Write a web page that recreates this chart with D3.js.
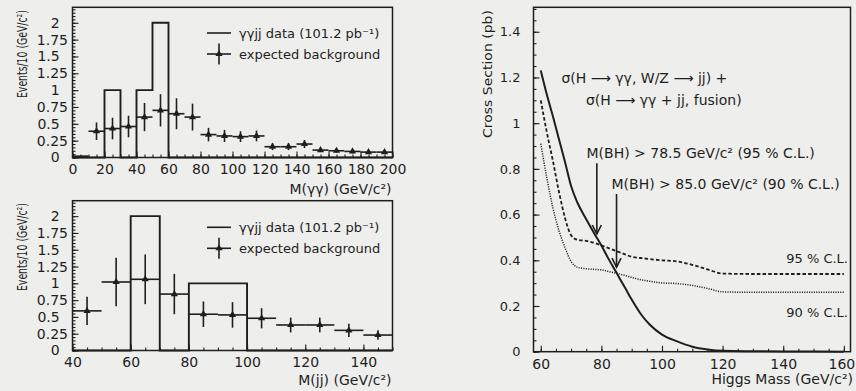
<!DOCTYPE html>
<html>
<head>
<meta charset="utf-8">
<script src="https://cdn.jsdelivr.net/npm/d3@7"></script>
<style>
  html, body { margin: 0; padding: 0; background: #eeeeec; }
  svg { display: block; }
  text { font-family: "DejaVu Sans", sans-serif; fill: #1e1e1e; }
</style>
</head>
<body>
<svg id="fig" width="856" height="391"></svg>
<script>
// ---------- M(γγ) spectrum: data histogram and expected background (10 GeV bins)
const ggCenters = [5, 15, 25, 35, 45, 55, 65, 75, 85, 95, 105, 115, 125, 135, 145, 155, 165, 175, 185, 195];
const ggData    = [0, 0, 1, 0, 1, 2, 0, 0, 0, 0, 0, 0, 0, 0, 0, 0, 0, 0, 0, 0];
const ggBkg     = [0.02, 0.39, 0.43, 0.46, 0.60, 0.70, 0.65, 0.60, 0.34, 0.32, 0.31, 0.32, 0.16, 0.16, 0.20, 0.11, 0.10, 0.09, 0.08, 0.08];
const ggBkgErr  = [0, 0.13, 0.16, 0.16, 0.21, 0.24, 0.23, 0.20, 0.10, 0.09, 0.08, 0.08, 0.05, 0.05, 0.06, 0.03, 0.03, 0.03, 0.025, 0.025];
const ggXTicks  = ["0", "20", "40", "60", "80", "100", "120", "140", "160", "180", "200"];

// ---------- M(jj) spectrum
const jjCenters = [45, 55, 65, 75, 85, 95, 105, 115, 125, 135, 145];
const jjData    = [0, 0, 2, 0, 1, 1, 0, 0, 0, 0, 0];
const jjBkg     = [0.59, 1.02, 1.06, 0.84, 0.54, 0.53, 0.48, 0.38, 0.38, 0.30, 0.23];
const jjBkgErr  = [0.21, 0.36, 0.37, 0.30, 0.19, 0.19, 0.15, 0.11, 0.11, 0.10, 0.07];
const jjXTicks  = ["40", "60", "80", "100", "120", "140"];

const eventYTicks = ["0", "0.25", "0.5", "0.75", "1", "1.25", "1.5", "1.75", "2"];
const binWidth = 10;

// ---------- cross section vs Higgs mass
const higgsMass = [60, 62, 64, 66, 68, 70, 72, 75, 78, 80, 82, 85, 88, 90, 93, 96, 100, 105, 110, 115, 120, 130, 140, 150, 160];
const xsecTheory = [1.23, 1.125, 1.03, 0.93, 0.83, 0.725, 0.655, 0.58, 0.51, 0.465, 0.415, 0.345, 0.275, 0.228, 0.165, 0.118, 0.075, 0.045, 0.022, 0.010, 0.004, 0.002, 0.001, 0.0005, 0.0];
const limit95    = [1.10, 0.96, 0.835, 0.70, 0.585, 0.51, 0.49, 0.485, 0.475, 0.465, 0.455, 0.44, 0.425, 0.415, 0.41, 0.405, 0.40, 0.395, 0.38, 0.36, 0.342, 0.34, 0.34, 0.34, 0.34];
const limit90    = [0.91, 0.76, 0.63, 0.53, 0.455, 0.395, 0.37, 0.363, 0.36, 0.358, 0.352, 0.343, 0.333, 0.325, 0.315, 0.308, 0.301, 0.298, 0.29, 0.277, 0.262, 0.26, 0.26, 0.26, 0.26];
const xsecXTicks = ["60", "80", "100", "120", "140", "160"];
const xsecYTicks = ["0", "0.2", "0.4", "0.6", "0.8", "1", "1.2", "1.4"];

// mass limits marked with arrows: [mass, arrow top, arrow tip] in (GeV, pb)
const limitMass  = [78.5, 85.0];
const arrowTop   = [0.825, 0.69];
const arrowTip   = [0.515, 0.37];

const ink = "#1e1e1e";
const svg = d3.select("#fig");

function range(a, b, step) {
  const out = [];
  for (let v = a; v <= b + 1e-9; v += step) out.push(+v.toFixed(4));
  return out;
}

// rotated axis title squeezed to a given length along its baseline
function verticalTitle(g, xBase, yBottom, len, size, str) {
  const t = g.append("text").style("font-size", size + "px").text(str);
  const natural = t.node().getComputedTextLength();
  t.attr("transform", `translate(${xBase},${yBottom}) rotate(-90) scale(${len / natural},1)`);
  return t;
}

// Draw one event-count panel (histogram + background with errors)
function eventPanel(cfg) {
  const g = svg.append("g");
  const x = d3.scaleLinear().domain(cfg.xDomain).range([cfg.left, cfg.right]);
  const y = d3.scaleLinear().domain([0, 2.23]).range([cfg.bottom, cfg.top]);

  // minor ticks
  g.append("g").attr("transform", `translate(0,${cfg.bottom})`)
    .call(d3.axisBottom(x).tickValues(range(cfg.xDomain[0], cfg.xDomain[1], 5)).tickSize(-3).tickFormat(""))
    .call(a => a.select(".domain").remove());
  g.append("g").attr("transform", `translate(${cfg.left},0)`)
    .call(d3.axisLeft(y).tickValues(range(0, 2.2, 0.05)).tickSize(-3).tickFormat(""))
    .call(a => a.select(".domain").remove());

  // major ticks and labels
  const xa = g.append("g").attr("transform", `translate(0,${cfg.bottom})`)
    .call(d3.axisBottom(x).tickValues(cfg.xTicks.map(Number)).tickSize(-6).tickPadding(7)
      .tickFormat((d, i) => cfg.xTicks[i]));
  xa.select(".domain").remove();
  xa.selectAll("text").style("font-size", "14px").attr("fill", ink);

  const ya = g.append("g").attr("transform", `translate(${cfg.left},0)`)
    .call(d3.axisLeft(y).tickValues(eventYTicks.map(Number)).tickSize(-6).tickPadding(4.5)
      .tickFormat((d, i) => eventYTicks[i]));
  ya.select(".domain").remove();
  ya.selectAll("text").style("font-size", "14px").attr("fill", ink)
    .attr("dx", (d, i) => (eventYTicks[i].length === 4 ? 0 : -8.3));
  g.selectAll(".tick line").attr("stroke", ink).attr("stroke-width", 1.1);

  // data histogram outline
  const pts = [[cfg.centers[0] - binWidth / 2, 0]];
  cfg.data.forEach((v, i) => {
    pts.push([cfg.centers[i] - binWidth / 2, v]);
    pts.push([cfg.centers[i] + binWidth / 2, v]);
  });
  pts.push([cfg.centers[cfg.centers.length - 1] + binWidth / 2, 0]);
  g.append("path")
    .attr("d", d3.line().x(d => x(d[0])).y(d => y(d[1]))(pts))
    .attr("fill", "none").attr("stroke", ink).attr("stroke-width", 1.9);

  // expected background: horizontal bin bars, error bars and markers
  const bk = g.append("g");
  cfg.centers.forEach((c, i) => {
    const v = cfg.bkg[i], e = cfg.err[i];
    bk.append("line").attr("x1", x(c - binWidth / 2)).attr("x2", x(c + binWidth / 2))
      .attr("y1", y(v)).attr("y2", y(v)).attr("stroke", ink).attr("stroke-width", 1.6);
    if (e > 0) {
      bk.append("line").attr("x1", x(c)).attr("x2", x(c))
        .attr("y1", y(v - e)).attr("y2", y(v + e)).attr("stroke", ink).attr("stroke-width", 1.6);
      bk.append("path").attr("d", d3.symbol(d3.symbolTriangle, 22)())
        .attr("transform", `translate(${x(c)},${y(v)})`).attr("fill", ink);
    }
  });

  // frame
  g.append("rect").attr("x", cfg.left).attr("y", cfg.top)
    .attr("width", cfg.right - cfg.left).attr("height", cfg.bottom - cfg.top)
    .attr("fill", "none").attr("stroke", ink).attr("stroke-width", 1.5);

  // legend
  const lg = g.append("g");
  lg.append("line").attr("x1", 207).attr("x2", 231).attr("y1", cfg.legendY).attr("y2", cfg.legendY)
    .attr("stroke", ink).attr("stroke-width", 1.6);
  lg.append("text").attr("x", 239).attr("y", cfg.legendY + 4.7).style("font-size", "13px")
    .text("γγjj data (101.2 pb⁻¹)");
  const ly2 = cfg.legendY + 21;
  lg.append("line").attr("x1", 207).attr("x2", 231).attr("y1", ly2).attr("y2", ly2)
    .attr("stroke", ink).attr("stroke-width", 1.6);
  lg.append("line").attr("x1", 219).attr("x2", 219).attr("y1", ly2 - 10.5).attr("y2", ly2 + 10.5)
    .attr("stroke", ink).attr("stroke-width", 1.6);
  lg.append("path").attr("d", d3.symbol(d3.symbolTriangle, 22)())
    .attr("transform", `translate(219,${ly2})`).attr("fill", ink);
  lg.append("text").attr("x", 239).attr("y", ly2 + 4.7).style("font-size", "13px")
    .text("expected background");

  // axis titles
  g.append("text").attr("x", cfg.right - 1).attr("y", cfg.xTitleY).attr("text-anchor", "end")
    .style("font-size", "14px").text(cfg.xTitle);
  verticalTitle(g, 26.5, cfg.yTitleBottom, 88, 14, "Events/10 (GeV/c²)");
}

eventPanel({
  left: 72.5, right: 392.5, top: 7.3, bottom: 157.5,
  xDomain: [0, 200], xTicks: ggXTicks,
  centers: ggCenters, data: ggData, bkg: ggBkg, err: ggBkgErr,
  legendY: 33, xTitle: "M(γγ) (GeV/c²)", xTitleY: 194, yTitleBottom: 98
});

eventPanel({
  left: 72.5, right: 392.5, top: 200.7, bottom: 350.5,
  xDomain: [40, 150], xTicks: jjXTicks,
  centers: jjCenters, data: jjData, bkg: jjBkg, err: jjBkgErr,
  legendY: 227.3, xTitle: "M(jj) (GeV/c²)", xTitleY: 385, yTitleBottom: 291
});

// ---------- cross-section panel
(function () {
  const L = 533.5, R = 850.5, T = 7.3, B = 351.7;
  const g = svg.append("g");
  const x = d3.scaleLinear().domain([57.6, 162.2]).range([L, R]);
  const y = d3.scaleLinear().domain([0, 1.507]).range([B, T]);

  g.append("g").attr("transform", `translate(0,${B})`)
    .call(d3.axisBottom(x).tickValues(range(60, 160, 5)).tickSize(-3).tickFormat(""))
    .call(a => a.select(".domain").remove());
  g.append("g").attr("transform", `translate(${L},0)`)
    .call(d3.axisLeft(y).tickValues(range(0, 1.5, 0.05)).tickSize(-3).tickFormat(""))
    .call(a => a.select(".domain").remove());

  const xa = g.append("g").attr("transform", `translate(0,${B})`)
    .call(d3.axisBottom(x).tickValues(xsecXTicks.map(Number)).tickSize(-6).tickPadding(7)
      .tickFormat((d, i) => xsecXTicks[i]));
  xa.select(".domain").remove();
  xa.selectAll("text").style("font-size", "14px").attr("fill", ink)
    .attr("dx", (d, i) => (i === xsecXTicks.length - 1 ? -2.5 : 0));

  const ya = g.append("g").attr("transform", `translate(${L},0)`)
    .call(d3.axisLeft(y).tickValues(xsecYTicks.map(Number)).tickSize(-6).tickPadding(13)
      .tickFormat((d, i) => xsecYTicks[i]));
  ya.select(".domain").remove();
  ya.selectAll("text").style("font-size", "13px").attr("fill", ink);
  g.selectAll(".tick line").attr("stroke", ink).attr("stroke-width", 1.1);

  const line = vals => d3.line().curve(d3.curveMonotoneX)
    .x((d, i) => x(higgsMass[i])).y(d => y(d))(vals);

  g.append("path").attr("d", line(xsecTheory)).attr("fill", "none")
    .attr("stroke", ink).attr("stroke-width", 2);
  g.append("path").attr("d", line(limit95)).attr("fill", "none")
    .attr("stroke", ink).attr("stroke-width", 1.8).attr("stroke-dasharray", "3.5,2.2");
  g.append("path").attr("d", line(limit90)).attr("fill", "none")
    .attr("stroke", ink).attr("stroke-width", 1.5).attr("stroke-dasharray", "1.1,1.3");

  // mass-limit arrows
  limitMass.forEach((m, i) => {
    const xm = x(m), y0 = y(arrowTop[i]), y1 = y(arrowTip[i]);
    g.append("line").attr("x1", xm).attr("x2", xm).attr("y1", y0).attr("y2", y1)
      .attr("stroke", ink).attr("stroke-width", 1.6);
    g.append("path").attr("d", `M${xm - 4.5},${y1 - 9}L${xm},${y1}L${xm + 4.5},${y1 - 9}`)
      .attr("fill", "none").attr("stroke", ink).attr("stroke-width", 1.6);
  });

  g.append("rect").attr("x", L).attr("y", T).attr("width", R - L).attr("height", B - T)
    .attr("fill", "none").attr("stroke", ink).attr("stroke-width", 1.5);

  const txt = (xp, yp, s, size, anchor) => g.append("text").attr("x", xp).attr("y", yp)
    .attr("text-anchor", anchor || "start").style("font-size", size + "px").text(s);

  txt(561.5, 82.5, "σ(H ⟶ γγ, W/Z ⟶ jj) +", 14);
  txt(586, 104.5, "σ(H ⟶ γγ + jj, fusion)", 14);
  txt(586.5, 158, "M(BH) > 78.5 GeV/c² (95 % C.L.)", 14);
  txt(611.5, 189, "M(BH) > 85.0 GeV/c² (90 % C.L.)", 14);
  txt(848, 263, "95 % C.L.", 13, "end");
  txt(848, 316.5, "90 % C.L.", 13, "end");

  txt(853, 383.5, "Higgs Mass (GeV/c²)", 14, "end");
  verticalTitle(g, 491.5, 138, 128, 13, "Cross Section (pb)");
})();
</script>
</body>
</html>
